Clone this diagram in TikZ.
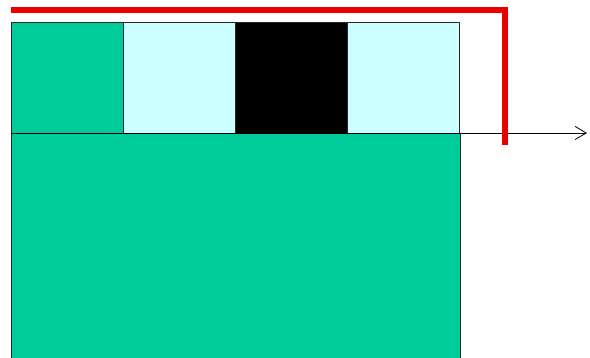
\documentclass[tikz,border=0pt]{standalone}
\usepackage{xcolor}
\usetikzlibrary{positioning,arrows.meta}
\definecolor{SeaGreen}{RGB}{0,204,153}
\definecolor{IceCyan}{RGB}{204,255,255}
\definecolor{SignalRed}{RGB}{235,0,0}

\begin{document}
\begin{tikzpicture}[
x=1pt, y=-1pt,
cell/.style={draw=black!85, line width=0.8pt, minimum width=112pt, minimum height=111pt, inner sep=0pt, outer sep=0pt},
slab/.style={draw=black!85, line width=0.8pt, fill=SeaGreen, minimum width=449pt, minimum height=226pt, inner sep=0pt, outer sep=0pt, anchor=north west},
axis/.style={-{Straight Barb[length=11pt, width=13pt, line width=0.8pt]}, line width=0.8pt, black},
frame/.style={SignalRed, line width=6pt}
]
\useasboundingbox (0,0) rectangle (590,358);
% top row of cells
\node[cell, fill=SeaGreen, anchor=north west] (c1) at (11,22) {};
\node[cell, fill=IceCyan, right=0pt of c1] (c2) {};
\node[cell, fill=black, right=0pt of c2] (c3) {};
\node[cell, fill=IceCyan, right=0pt of c3] (c4) {};
% lower block
\node[slab] (base) at (c1.south west) {};
% axis
\coordinate (tip) at (587,133);
\draw[axis] (base.north west) -- (tip);
% red frame
\coordinate (r0) at (11,10.5);
\coordinate (r1) at (505,145);
\draw[frame] (r0) -| (r1);
\end{tikzpicture}
\end{document}
